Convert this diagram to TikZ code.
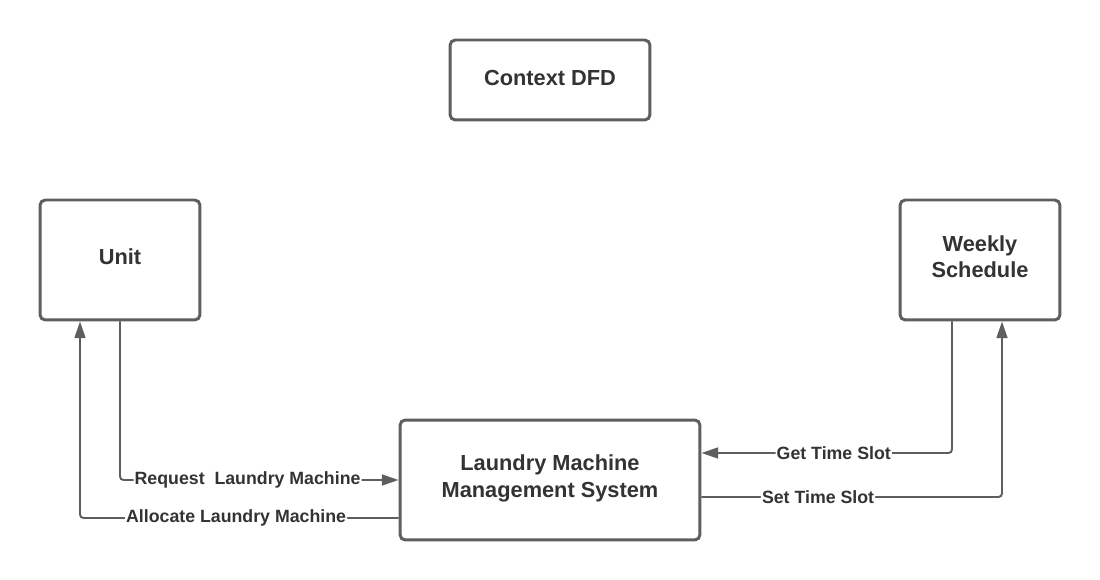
\documentclass[tikz,border=0pt]{standalone}
\usepackage{fontspec}
\setmainfont{Liberation Sans}
\usetikzlibrary{arrows.meta,calc}
\definecolor{edge}{HTML}{5E5E5E}
\definecolor{txt}{HTML}{333333}
\tikzset{
  box/.style={draw=edge, line width=1.7pt, rounded corners=3pt, fill=white,
    text=txt, align=center, font=\fontsize{12.4}{15.3}\selectfont\bfseries},
  conn/.style={draw=edge, line width=1.1pt, rounded corners=2pt,
    -{Triangle[length=9.5pt,width=6.2pt]}},
  flowlabel/.style={fill=white, inner sep=0.6pt, text=txt,
    font=\fontsize{10.1}{12}\selectfont\bfseries}
}
\begin{document}
\begin{tikzpicture}[x=0.02cm,y=-0.02cm]
\useasboundingbox[fill=white] (0,0) rectangle (1100,580);
\node[box, minimum width=4cm, minimum height=1.6cm, text depth=2.3pt] (title) at (550,80) {Context DFD};
\node[box, minimum width=3.2cm, minimum height=2.4cm, text depth=3.4pt] (unit) at (120,260) {Unit};
\node[box, minimum width=3.2cm, minimum height=2.4cm, text depth=3.8pt] (weekly) at (980,260) {Weekly\\Schedule};
\node[box, minimum width=6cm, minimum height=2.4cm, text depth=4.9pt] (lmms) at (550,480) {Laundry Machine\\Management System};
\coordinate (allocA) at ($(lmms.west)+(0,38)$);
\coordinate (allocB) at ($(unit.south)+(-40,0)$);
\coordinate (getA) at ($(weekly.south)+(-28,0)$);
\coordinate (getB) at ($(lmms.east)+(0,-27)$);
\coordinate (setA) at ($(lmms.east)+(0,17)$);
\coordinate (setB) at ($(weekly.south)+(22,0)$);
\draw[conn] (unit.south) |- node[flowlabel, pos=0.729] (lreq) {Request\ \ Laundry Machine} (lmms.west);
\draw[conn] (allocA) -| node[flowlabel, pos=0.255] (lalloc) {Allocate Laundry Machine} (allocB);
\draw[conn] (getA) |- node[flowlabel, pos=0.736] (lget) {Get Time Slot} (getB);
\draw[conn] (setA) -| node[flowlabel, pos=0.194] (lset) {Set Time Slot} (setB);
\end{tikzpicture}
\end{document}
